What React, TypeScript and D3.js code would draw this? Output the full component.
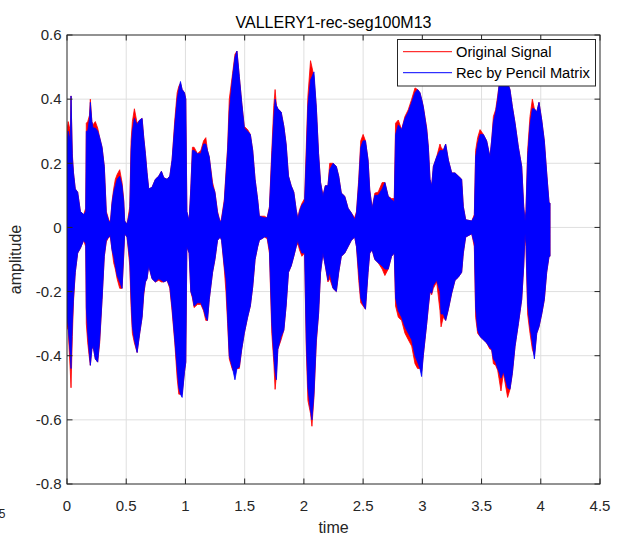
import React from 'react';
import * as d3 from 'd3';

const WIDTH = 619;
const HEIGHT = 537;

const xDomain = [0, 4.5];
const yDomain = [-0.8, 0.6];
const xTicks = [0, 0.5, 1, 1.5, 2, 2.5, 3, 3.5, 4, 4.5];
const yTicks = [-0.8, -0.6, -0.4, -0.2, 0, 0.2, 0.4, 0.6];

const titleText = 'VALLERY1-rec-seg100M13';
const xLabel = 'time';
const yLabel = 'amplitude';
const xExponent = '5';
const seriesNames = ['Original Signal', 'Rec by Pencil Matrix'];
const seriesColors = ['#ff0000', '#0000ff'];

// Sample positions (x 10^5) of the envelope breakpoints
const times = [
  0.000, 0.010, 0.028, 0.034, 0.045, 0.055, 0.070, 0.090, 0.113, 0.141,
  0.158, 0.163, 0.175, 0.190, 0.197, 0.210, 0.220, 0.239, 0.259, 0.276,
  0.296, 0.315, 0.332, 0.352, 0.366, 0.380, 0.394, 0.408, 0.423, 0.445,
  0.465, 0.479, 0.487, 0.507, 0.530, 0.541, 0.552, 0.569, 0.592, 0.614,
  0.634, 0.648, 0.662, 0.676, 0.690, 0.718, 0.746, 0.775, 0.797, 0.817,
  0.845, 0.868, 0.887, 0.910, 0.930, 0.944, 0.958, 0.972, 0.992,
  1.003, 1.012, 1.031, 1.045, 1.059, 1.073, 1.102, 1.130, 1.153, 1.172,
  1.186, 1.201, 1.229, 1.249, 1.271, 1.294, 1.305, 1.328, 1.342, 1.356,
  1.370, 1.398, 1.418, 1.435, 1.455, 1.475, 1.497, 1.525, 1.548, 1.568,
  1.588, 1.610, 1.624, 1.667, 1.690, 1.709, 1.729, 1.746, 1.757, 1.768,
  1.780, 1.808, 1.831, 1.850, 1.870, 1.893, 1.915, 1.935, 1.949, 1.963,
  1.983, 2.006,
  2.020, 2.034, 2.056, 2.068, 2.085, 2.105, 2.124, 2.141, 2.161, 2.181,
  2.203, 2.218, 2.246, 2.274, 2.294, 2.316, 2.345, 2.373, 2.401, 2.429,
  2.444, 2.463, 2.480, 2.500, 2.520, 2.542, 2.556, 2.576, 2.599, 2.627,
  2.661, 2.684, 2.712, 2.740, 2.763, 2.774, 2.797, 2.825, 2.853, 2.881,
  2.910, 2.938, 2.960, 2.980, 2.994, 3.008, 3.037,
  3.051, 3.065, 3.079, 3.093, 3.121, 3.149, 3.158, 3.177, 3.197, 3.220,
  3.248, 3.276, 3.304, 3.332, 3.346, 3.366, 3.417, 3.439, 3.450, 3.467,
  3.487, 3.515, 3.543, 3.571, 3.585, 3.600, 3.619, 3.636, 3.647, 3.664,
  3.684, 3.692, 3.720, 3.740, 3.760, 3.783, 3.811, 3.839, 3.856, 3.867,
  3.875, 3.889, 3.909, 3.929, 3.946, 3.966, 3.985, 4.008, 4.030, 4.050,
  4.070, 4.078,
];

// Original signal: upper and lower envelope
const origUpper = [
  0.30, 0.33, 0.30, 0.41, 0.23, 0.17, 0.12, 0.11, 0.05, 0.04,
  0.06, 0.325, 0.33, 0.35, 0.40, 0.33, 0.32, 0.33, 0.31, 0.28,
  0.25, 0.19, 0.05, 0.025, 0.015, 0.08, 0.12, 0.15, 0.165, 0.18,
  0.14, 0.086, 0.02, 0.01, 0.065, 0.27, 0.33, 0.37, 0.325, 0.335,
  0.34, 0.28, 0.23, 0.17, 0.12, 0.125, 0.15, 0.16, 0.175, 0.155,
  0.15, 0.16, 0.21, 0.335, 0.42, 0.44, 0.45, 0.43, 0.42,
  0.40, 0.05, 0.02, 0.12, 0.25, 0.25, 0.23, 0.24, 0.27, 0.28,
  0.24, 0.22, 0.14, 0.11, 0.05, 0.015, 0.03, 0.086, 0.17, 0.25,
  0.40, 0.48, 0.54, 0.55, 0.47, 0.39, 0.315, 0.305, 0.29, 0.24,
  0.15, 0.086, 0.035, 0.035, 0.03, 0.065, 0.24, 0.38, 0.43, 0.38,
  0.37, 0.36, 0.315, 0.26, 0.16, 0.13, 0.11, 0.055, 0.03, 0.055,
  0.075, 0.09,
  0.25, 0.41, 0.52, 0.50, 0.47, 0.375, 0.23, 0.14, 0.10, 0.13,
  0.13, 0.20, 0.20, 0.19, 0.16, 0.107, 0.097, 0.06, 0.045, 0.03,
  0.05, 0.15, 0.27, 0.29, 0.27, 0.21, 0.117, 0.06, 0.107, 0.11,
  0.14, 0.14, 0.097, 0.09, 0.09, 0.325, 0.335, 0.305, 0.346, 0.367,
  0.40, 0.435, 0.43, 0.42, 0.40, 0.377, 0.31,
  0.25, 0.15, 0.13, 0.19, 0.22, 0.26, 0.25, 0.24, 0.26, 0.21,
  0.17, 0.17, 0.16, 0.15, 0.065, 0.024, 0.02, 0.04, 0.24, 0.28,
  0.305, 0.29, 0.27, 0.22, 0.27, 0.346, 0.367, 0.41, 0.44, 0.47,
  0.46, 0.45, 0.45, 0.43, 0.377, 0.325, 0.25, 0.19, 0.065, 0.02,
  0.055, 0.24, 0.346, 0.40, 0.37, 0.36, 0.39, 0.335, 0.27, 0.17,
  0.076, 0.076,
];

const origLower = [
  -0.31, -0.32, -0.45, -0.50, -0.34, -0.23, -0.14, -0.08, -0.065, -0.04,
  -0.06, -0.30, -0.36, -0.41, -0.43, -0.38, -0.37, -0.41, -0.42, -0.36,
  -0.225, -0.09, -0.045, -0.03, -0.03, -0.07, -0.11, -0.13, -0.16, -0.19,
  -0.19, -0.09, -0.02, -0.03, -0.12, -0.25, -0.33, -0.36, -0.39, -0.33,
  -0.28, -0.21, -0.17, -0.16, -0.12, -0.16, -0.17, -0.165, -0.17, -0.17,
  -0.165, -0.19, -0.26, -0.36, -0.47, -0.52, -0.52, -0.52, -0.45,
  -0.42, -0.06, -0.08, -0.20, -0.22, -0.25, -0.24, -0.24, -0.26, -0.29,
  -0.29, -0.225, -0.14, -0.10, -0.04, -0.03, -0.04, -0.13, -0.20, -0.30,
  -0.41, -0.445, -0.45, -0.44, -0.44, -0.38, -0.33, -0.28, -0.245, -0.185,
  -0.10, -0.06, -0.04, -0.03, -0.035, -0.08, -0.33, -0.42, -0.505, -0.46,
  -0.38, -0.35, -0.32, -0.245, -0.14, -0.12, -0.09, -0.06, -0.05, -0.07,
  -0.09, -0.08,
  -0.38, -0.54, -0.58, -0.62, -0.53, -0.36, -0.27, -0.14, -0.08, -0.12,
  -0.17, -0.16, -0.19, -0.20, -0.14, -0.09, -0.08, -0.06, -0.04, -0.03,
  -0.06, -0.165, -0.235, -0.245, -0.255, -0.14, -0.08, -0.07, -0.10, -0.11,
  -0.13, -0.15, -0.13, -0.09, -0.08, -0.245, -0.28, -0.29, -0.33, -0.35,
  -0.37, -0.425, -0.44, -0.44, -0.45, -0.40, -0.30,
  -0.25, -0.20, -0.21, -0.19, -0.17, -0.26, -0.31, -0.28, -0.29, -0.255,
  -0.205, -0.165, -0.155, -0.14, -0.08, -0.03, -0.02, -0.06, -0.28, -0.33,
  -0.34, -0.35, -0.36, -0.38, -0.38, -0.425, -0.43, -0.445, -0.47, -0.51,
  -0.455, -0.47, -0.53, -0.505, -0.455, -0.37, -0.30, -0.225, -0.12, -0.02,
  -0.06, -0.27, -0.33, -0.38, -0.40, -0.33, -0.31, -0.27, -0.225, -0.14,
  -0.09, -0.09,
];

// Reconstruction by the pencil matrix: upper and lower envelope
const recUpper = [
  0.26, 0.30, 0.27, 0.41, 0.22, 0.17, 0.12, 0.11, 0.05, 0.04,
  0.05, 0.30, 0.30, 0.34, 0.39, 0.33, 0.31, 0.31, 0.30, 0.28,
  0.25, 0.19, 0.045, 0.02, 0.015, 0.075, 0.11, 0.13, 0.15, 0.16,
  0.13, 0.08, 0.02, 0.01, 0.05, 0.24, 0.30, 0.34, 0.32, 0.335,
  0.34, 0.28, 0.23, 0.17, 0.12, 0.125, 0.15, 0.16, 0.175, 0.155,
  0.15, 0.16, 0.21, 0.32, 0.40, 0.43, 0.455, 0.43, 0.42,
  0.40, 0.05, 0.02, 0.12, 0.24, 0.24, 0.23, 0.23, 0.26, 0.26,
  0.24, 0.22, 0.13, 0.11, 0.045, 0.015, 0.025, 0.08, 0.16, 0.24,
  0.36, 0.47, 0.53, 0.55, 0.47, 0.39, 0.31, 0.30, 0.29, 0.24,
  0.15, 0.086, 0.035, 0.03, 0.03, 0.06, 0.22, 0.34, 0.40, 0.38,
  0.37, 0.36, 0.315, 0.26, 0.16, 0.13, 0.11, 0.055, 0.025, 0.05,
  0.07, 0.08,
  0.22, 0.38, 0.46, 0.47, 0.485, 0.375, 0.23, 0.14, 0.097, 0.13,
  0.13, 0.18, 0.20, 0.19, 0.16, 0.107, 0.097, 0.06, 0.045, 0.024,
  0.045, 0.14, 0.25, 0.27, 0.27, 0.21, 0.117, 0.06, 0.10, 0.10,
  0.12, 0.14, 0.097, 0.086, 0.08, 0.29, 0.32, 0.305, 0.34, 0.36,
  0.39, 0.42, 0.43, 0.42, 0.40, 0.377, 0.305,
  0.25, 0.15, 0.13, 0.19, 0.22, 0.24, 0.24, 0.24, 0.26, 0.21,
  0.17, 0.17, 0.16, 0.15, 0.065, 0.024, 0.02, 0.035, 0.22, 0.26,
  0.29, 0.29, 0.27, 0.22, 0.27, 0.33, 0.36, 0.40, 0.44, 0.46,
  0.46, 0.45, 0.45, 0.43, 0.377, 0.325, 0.25, 0.19, 0.065, 0.02,
  0.05, 0.22, 0.32, 0.37, 0.37, 0.36, 0.39, 0.335, 0.27, 0.17,
  0.076, 0.076,
];

const recLower = [
  -0.28, -0.31, -0.40, -0.44, -0.30, -0.22, -0.14, -0.08, -0.065, -0.04,
  -0.05, -0.25, -0.33, -0.40, -0.43, -0.38, -0.37, -0.41, -0.42, -0.35,
  -0.225, -0.09, -0.04, -0.03, -0.025, -0.07, -0.09, -0.12, -0.15, -0.17,
  -0.19, -0.08, -0.02, -0.03, -0.10, -0.22, -0.31, -0.35, -0.39, -0.33,
  -0.28, -0.205, -0.17, -0.16, -0.12, -0.16, -0.17, -0.16, -0.165, -0.17,
  -0.165, -0.185, -0.25, -0.35, -0.44, -0.50, -0.52, -0.53, -0.45,
  -0.42, -0.06, -0.08, -0.20, -0.215, -0.245, -0.235, -0.235, -0.255, -0.28,
  -0.29, -0.225, -0.14, -0.10, -0.04, -0.03, -0.04, -0.12, -0.16, -0.28,
  -0.40, -0.44, -0.475, -0.44, -0.435, -0.38, -0.33, -0.28, -0.245, -0.185,
  -0.10, -0.06, -0.04, -0.03, -0.03, -0.07, -0.30, -0.40, -0.45, -0.475,
  -0.38, -0.34, -0.32, -0.245, -0.14, -0.12, -0.09, -0.06, -0.04, -0.06,
  -0.08, -0.08,
  -0.35, -0.50, -0.57, -0.60, -0.52, -0.35, -0.27, -0.14, -0.08, -0.12,
  -0.165, -0.14, -0.19, -0.20, -0.14, -0.09, -0.08, -0.06, -0.04, -0.03,
  -0.06, -0.14, -0.22, -0.24, -0.255, -0.14, -0.08, -0.07, -0.10, -0.11,
  -0.12, -0.13, -0.13, -0.09, -0.08, -0.22, -0.26, -0.28, -0.31, -0.33,
  -0.35, -0.40, -0.42, -0.44, -0.465, -0.40, -0.30,
  -0.245, -0.20, -0.205, -0.18, -0.165, -0.20, -0.27, -0.27, -0.29, -0.255,
  -0.205, -0.165, -0.155, -0.14, -0.08, -0.03, -0.02, -0.05, -0.25, -0.32,
  -0.34, -0.35, -0.36, -0.375, -0.38, -0.41, -0.42, -0.44, -0.45, -0.47,
  -0.45, -0.46, -0.50, -0.505, -0.455, -0.37, -0.30, -0.225, -0.12, -0.02,
  -0.05, -0.24, -0.31, -0.36, -0.41, -0.33, -0.31, -0.27, -0.225, -0.14,
  -0.09, -0.09,
];

const FONT = '"Liberation Sans", Arial, Helvetica, sans-serif';
const AXIS_COLOR = '#262626';
const GRID_COLOR = '#dfdfdf';

export default function App() {
  const plot = { left: 67, right: 600, top: 35, bottom: 484 };
  const x = d3.scaleLinear().domain(xDomain).range([plot.left, plot.right]);
  const y = d3.scaleLinear().domain(yDomain).range([plot.bottom, plot.top]);

  const n = Math.min(times.length, origUpper.length, origLower.length, recUpper.length, recLower.length);
  const idx = d3.range(n);

  const areaFor = (upper: number[], lower: number[]) =>
    d3
      .area<number>()
      .x((i) => x(times[i]))
      .y0((i) => y(lower[i]))
      .y1((i) => y(upper[i]))(idx) || '';

  const origPath = areaFor(origUpper, origLower);
  const recPath = areaFor(recUpper, recLower);

  const tickLen = 5.5;
  const legend = { x: 397.5, y: 39.5, w: 198, h: 46.5 };
  const legendRows = [51.7, 72.7];

  return (
    <svg
      width={WIDTH}
      height={HEIGHT}
      viewBox={`0 0 ${WIDTH} ${HEIGHT}`}
      style={{ position: 'absolute', left: 0, top: 0, background: '#fff' }}
      fontFamily={FONT}
    >
      <rect x={0} y={0} width={WIDTH} height={HEIGHT} fill="#fff" />
      <defs>
        <clipPath id="plot-clip">
          <rect x={plot.left} y={plot.top} width={plot.right - plot.left} height={plot.bottom - plot.top} />
        </clipPath>
      </defs>

      {/* grid */}
      <g stroke={GRID_COLOR} strokeWidth={1}>
        {xTicks.slice(1, -1).map((t) => (
          <line key={`gx${t}`} x1={x(t)} x2={x(t)} y1={plot.top} y2={plot.bottom} />
        ))}
        {yTicks.slice(1, -1).map((t) => (
          <line key={`gy${t}`} x1={plot.left} x2={plot.right} y1={y(t)} y2={y(t)} />
        ))}
      </g>

      {/* signals */}
      <g clipPath="url(#plot-clip)">
        <path d={origPath} fill={seriesColors[0]} stroke={seriesColors[0]} strokeWidth={0.8} strokeLinejoin="miter" />
        <path d={recPath} fill={seriesColors[1]} stroke={seriesColors[1]} strokeWidth={0.8} strokeLinejoin="miter" />
      </g>

      {/* axes box and inward ticks */}
      <rect
        x={plot.left}
        y={plot.top}
        width={plot.right - plot.left}
        height={plot.bottom - plot.top}
        fill="none"
        stroke={AXIS_COLOR}
        strokeWidth={1}
      />
      <g stroke={AXIS_COLOR} strokeWidth={1}>
        {xTicks.map((t) => (
          <g key={`tx${t}`}>
            <line x1={x(t)} x2={x(t)} y1={plot.bottom} y2={plot.bottom - tickLen} />
            <line x1={x(t)} x2={x(t)} y1={plot.top} y2={plot.top + tickLen} />
          </g>
        ))}
        {yTicks.map((t) => (
          <g key={`ty${t}`}>
            <line x1={plot.left} x2={plot.left + tickLen} y1={y(t)} y2={y(t)} />
            <line x1={plot.right} x2={plot.right - tickLen} y1={y(t)} y2={y(t)} />
          </g>
        ))}
      </g>

      {/* tick labels */}
      <g fill={AXIS_COLOR} fontSize={15}>
        {xTicks.map((t) => (
          <text key={`lx${t}`} x={x(t)} y={510.5} textAnchor="middle">
            {String(t)}
          </text>
        ))}
        {yTicks.map((t) => (
          <text key={`ly${t}`} x={61.5} y={y(t) + 5.3} textAnchor="end">
            {String(t)}
          </text>
        ))}
      </g>
      <text x={5.5} y={518} fontSize={12} fill={AXIS_COLOR} textAnchor="end">
        {xExponent}
      </text>

      {/* labels and title */}
      <text x={(plot.left + plot.right) / 2} y={28.3} fontSize={16} fill="#000" textAnchor="middle">
        {titleText}
      </text>
      <text x={(plot.left + plot.right) / 2} y={533} fontSize={16} fill={AXIS_COLOR} textAnchor="middle">
        {xLabel}
      </text>
      <text
        transform={`translate(${20.8},${(plot.top + plot.bottom) / 2}) rotate(-90)`}
        fontSize={16}
        fill={AXIS_COLOR}
        textAnchor="middle"
      >
        {yLabel}
      </text>

      {/* legend */}
      <rect x={legend.x} y={legend.y} width={legend.w} height={legend.h} fill="#fff" stroke={AXIS_COLOR} strokeWidth={1} />
      {seriesNames.map((name, i) => (
        <g key={name}>
          <line x1={403} x2={452} y1={legendRows[i]} y2={legendRows[i]} stroke={seriesColors[i]} strokeWidth={1} />
          <text x={456} y={legendRows[i] + 5.2} fontSize={14.7} fill="#000">
            {name}
          </text>
        </g>
      ))}
    </svg>
  );
}
